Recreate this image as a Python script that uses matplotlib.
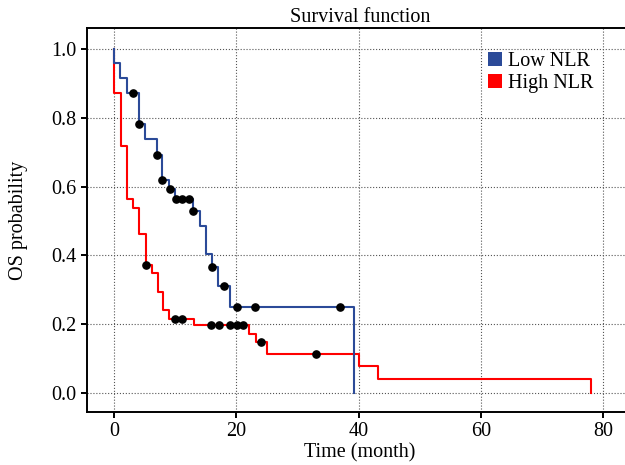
import numpy as np
from matplotlib import pyplot as plt
from matplotlib.patches import Patch

# Kaplan-Meier steps (months, survival)
low_t = [0, 0, 1.0, 2.07, 4.1, 5.07, 7.0, 7.9, 9.0, 10.0, 13.0, 14.05, 15.05, 16.0, 17.0, 19.0, 39.2]
low_s = [1.0, 0.960, 0.917, 0.873, 0.782, 0.738, 0.692, 0.618, 0.592, 0.564, 0.528, 0.485, 0.404, 0.365, 0.312, 0.251, 0.0]
low_cens = [3.05, 4.1, 7.0, 7.9, 9.1, 10.1, 11.1, 12.2, 13.0, 16.0, 18.0, 20.1, 23.1, 37.0]

high_t = [0, 0, 1.1, 2.07, 3.05, 4.1, 5.2, 6.15, 7.14, 8.07, 9.06, 13.1, 22.1, 23.2, 25.1, 40.1, 43.2, 78.1]
high_s = [1.0, 0.873, 0.719, 0.564, 0.537, 0.461, 0.372, 0.348, 0.295, 0.241, 0.215, 0.198, 0.172, 0.149, 0.115, 0.078, 0.040, 0.0]
high_cens = [5.2, 10.0, 11.1, 15.9, 17.1, 19.0, 20.1, 21.1, 24.0, 33.0]

labels = ["Low NLR", "High NLR"]
colors = ["#2b4a98", "#ff0000"]

plt.rcParams['font.family'] = 'Liberation Serif'
plt.rcParams['font.size'] = 14.5


def surv_at(times, surv, pts):
    idx = np.searchsorted(np.array(times), np.array(pts), side='right') - 1
    return np.array(surv)[idx]


fig = plt.figure(figsize=(6.25, 4.65), dpi=100)
ax = fig.add_axes([87 / 625, 53 / 465, 546 / 625, 384 / 465])

ax.step(high_t, high_s, where='post', color=colors[1], lw=1.5, zorder=2)
ax.step(low_t, low_s, where='post', color=colors[0], lw=1.5, zorder=3)
ax.plot(high_cens, surv_at(high_t, high_s, high_cens), 'o', color='black', ms=5.2, zorder=4)
ax.plot(low_cens, surv_at(low_t, low_s, low_cens), 'o', color='black', ms=5.2, zorder=4)

ax.set_xlim(-4.42, 84.9)
ax.set_ylim(-0.055, 1.061)
ax.set_xticks([0, 20, 40, 60, 80])
ax.set_yticks([0.0, 0.2, 0.4, 0.6, 0.8, 1.0])
ax.set_yticklabels(["%.1f" % v for v in [0.0, 0.2, 0.4, 0.6, 0.8, 1.0]])
ax.grid(True, linestyle=':', color='#555555', lw=0.8)
ax.tick_params(direction='out', length=4.5, width=1.4, pad=3)
for s in ax.spines.values():
    s.set_linewidth(1.4)

ax.set_title("Survival function", fontsize=14.5, pad=4)
ax.set_xlabel("Time (month)", labelpad=1)
ax.set_ylabel("OS probability", labelpad=17)

handles = [Patch(facecolor=c, edgecolor='none') for c in colors]
ax.legend(handles, labels, loc='upper left', bbox_to_anchor=((488 - 87) / 546, (412 - 52) / 384),
          frameon=False, borderpad=0, handlelength=0.7, handleheight=0.7,
          handletextpad=0.3, labelspacing=0.15, borderaxespad=0)

fig.savefig("out.png", dpi=100)
